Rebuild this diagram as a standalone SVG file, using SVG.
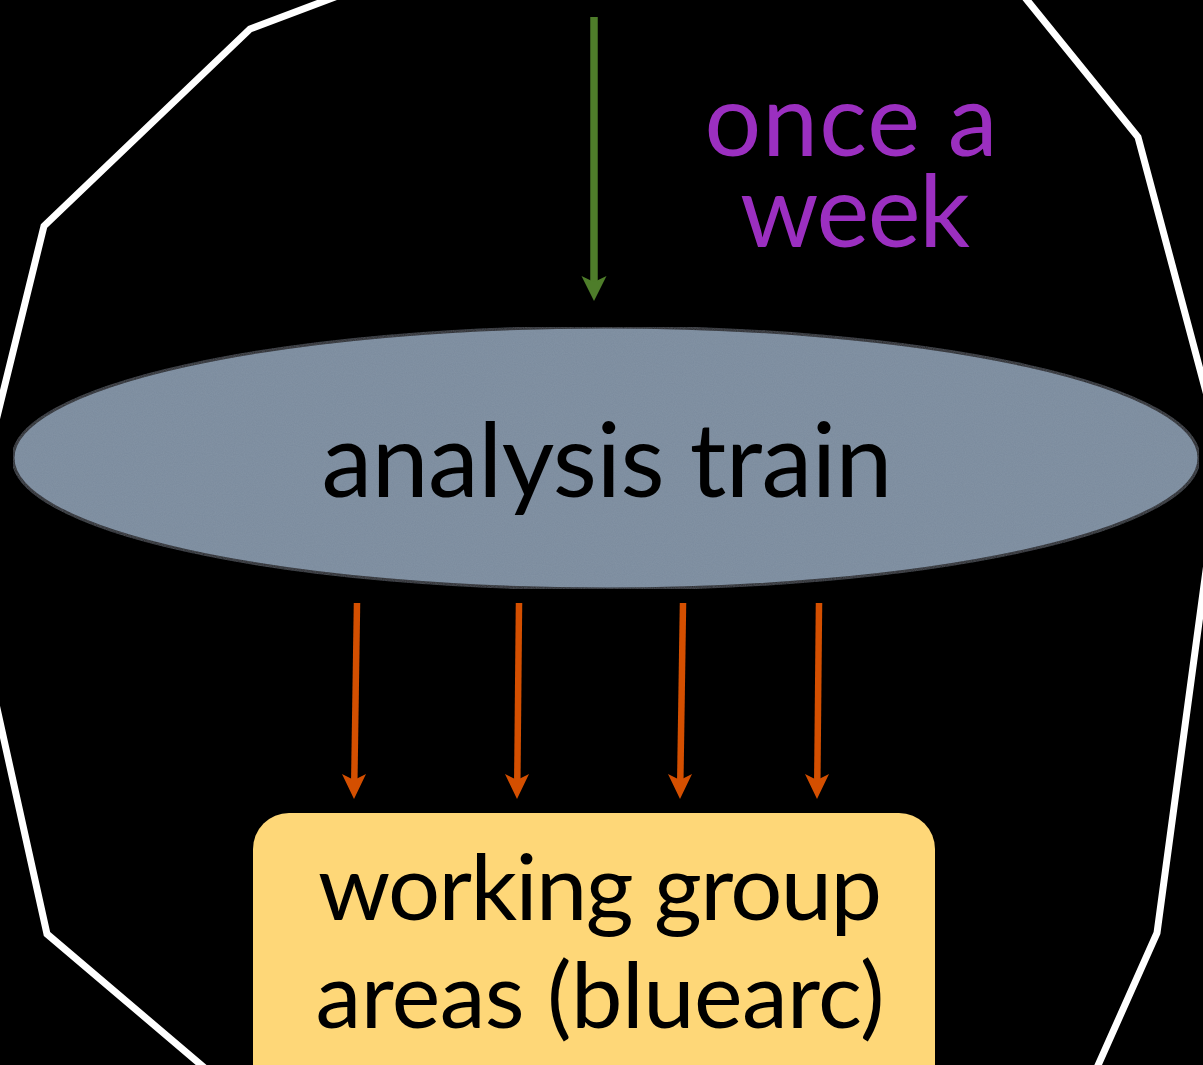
<svg xmlns="http://www.w3.org/2000/svg" width="1203" height="1065" viewBox="0 0 1203 1065">
  <defs>
    <style>
      .label { font-family: "Lato", "Open Sans", "Liberation Sans", sans-serif; text-anchor: middle; }
      .dark { fill: #000000; }
      .note { fill: #9b2fc0; }
      .green { stroke: #4e7d2a; stroke-width: 7.5; fill: none; }
      .orange { stroke: #d44f00; stroke-width: 6.5; fill: none; }
      .head-green { fill: #4e7d2a; }
      .head-orange { fill: #d44f00; }
    </style>
    <filter id="grain" x="0" y="0" width="100%" height="100%">
      <feTurbulence type="fractalNoise" baseFrequency="0.9" numOctaves="2" seed="3" result="n"/>
      <feColorMatrix in="n" type="matrix" values="0 0 0 0 0.5  0 0 0 0 0.55  0 0 0 0 0.62  0 0 0 0.12 0" result="g"/>
      <feComposite in="g" in2="SourceGraphic" operator="in" result="gc"/>
      <feMerge><feMergeNode in="SourceGraphic"/><feMergeNode in="gc"/></feMerge>
    </filter>
  </defs>

  <rect x="0" y="0" width="1203" height="1065" fill="#000000"/>

  <!-- outer boundary outline -->
  <g id="boundary">
    <polygon points="250,29 44,226 -37,555 47,934 260,1115 1075,1117 1157,933 1222,452 1138,137 950,-95 420,-35"
             fill="none" stroke="#ffffff" stroke-width="7" stroke-linejoin="miter"/>
  </g>

  <g id="note-once-a-week">
    <text class="label note" x="851" y="156" font-size="100" textLength="293" lengthAdjust="spacing">once a</text>
    <text class="label note" x="855" y="247" font-size="100" textLength="230" lengthAdjust="spacing">week</text>
  </g>

  <g id="analysis-train">
    <ellipse cx="606" cy="458" rx="593" ry="131" fill="#7a8b9e" stroke="#25272c" stroke-width="3" filter="url(#grain)"/>
    <text class="label dark" x="607" y="497" font-size="102" textLength="571" lengthAdjust="spacing">analysis train</text>
  </g>

  <g id="working-group-areas">
    <rect x="253" y="813" width="682" height="300" rx="36" ry="36" fill="#fed778"/>
    <text class="label dark" x="600" y="920" font-size="92" textLength="564" lengthAdjust="spacing">working group</text>
    <text class="label dark" x="600" y="1028" font-size="92" textLength="569" lengthAdjust="spacing">areas (bluearc)</text>
  </g>

  <g id="connectors">
    <line class="green" x1="594" y1="17" x2="594" y2="282"/>
    <path class="head-green" d="M581.5,276 L594,301 L606.5,276 L594,282 Z"/>

    <line class="orange" x1="357" y1="603" x2="354.3" y2="780"/>
    <path class="head-orange" d="M342,774 L354,799 L366,774 L354,780 Z"/>

    <line class="orange" x1="519" y1="603" x2="517.3" y2="780"/>
    <path class="head-orange" d="M505,774 L517,799 L529,774 L517,780 Z"/>

    <line class="orange" x1="683" y1="603" x2="680.3" y2="780"/>
    <path class="head-orange" d="M668,774 L680,799 L692,774 L680,780 Z"/>

    <line class="orange" x1="819" y1="603" x2="817.3" y2="780"/>
    <path class="head-orange" d="M805,774 L817,799 L829,774 L817,780 Z"/>
  </g>
</svg>
